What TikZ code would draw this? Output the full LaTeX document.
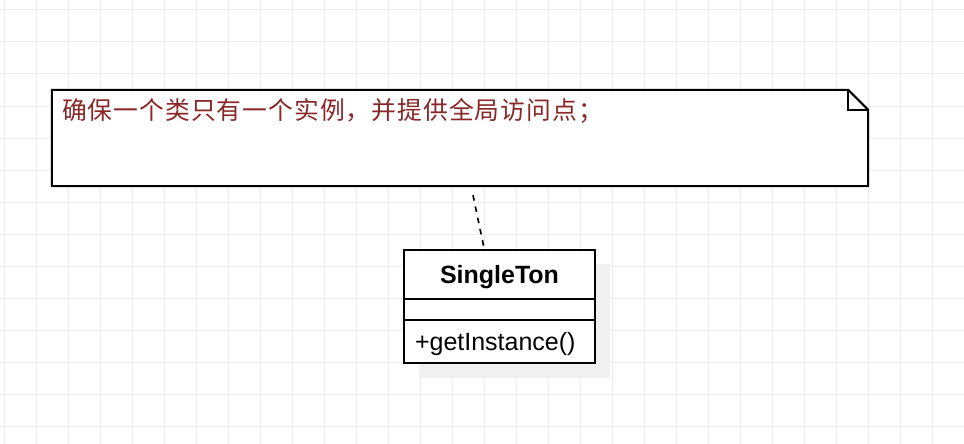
\documentclass[tikz,border=0pt]{standalone}
\usepackage{fontspec}
\setmainfont{Liberation Sans}
\newfontfamily\cjk[LetterSpace=4]{Noto Sans CJK SC}
\definecolor{gridc}{RGB}{236,236,236}
\definecolor{notetext}{RGB}{136,40,40}
\definecolor{shadowc}{RGB}{240,240,240}
\tikzset{
  gridline/.style={draw=gridc, line width=1pt},
  notebox/.style={rectangle, minimum width=816pt, minimum height=96pt, inner sep=0pt},
  noteline/.style={draw=black, line width=2pt, line join=miter},
  notetxt/.style={inner sep=0pt, anchor=west, text=notetext, font=\cjk\fontsize{24.8}{29}\selectfont},
  umlpart/.style={draw=black, line width=2pt, fill=white, rectangle, minimum width=191pt, inner sep=0pt, text height=18pt, text depth=0pt, font=\fontsize{25}{30}\selectfont},
  shadowbox/.style={fill=shadowc, draw=none, rectangle, minimum width=191pt, minimum height=114pt, inner sep=0pt},
  linkline/.style={draw=black, line width=1.7pt, dash pattern=on 5.5pt off 6pt}
}
\begin{document}
\begin{tikzpicture}[x=1pt,y=-1pt]
\useasboundingbox (0,0) rectangle (964,444);
\fill[white] (0,0) rectangle (964,444);
\foreach \i in {0,...,30} \draw[gridline] ({4+32*\i},0) -- ({4+32*\i},444);
\foreach \j in {0,...,13} \draw[gridline] (0,{10+32*\j}) -- (964,{10+32*\j});
% note
\node[notebox] (note) at (460,138) {};
\fill[white] (note.south west) -- (note.north west) -- ([xshift=-20pt]note.north east) -- ([yshift=-20pt]note.north east) -- (note.south east) -- cycle;
\draw[noteline] (note.south west) -- (note.north west) -- ([xshift=-20pt]note.north east) -- ([yshift=-20pt]note.north east) -- (note.south east) -- cycle;
\draw[noteline] ([xshift=-20pt]note.north east) |- ([yshift=-20pt]note.north east);
\node[notetxt] (notetext) at (62,111) {确保一个类只有一个实例，并提供全局访问点；};
% class
\node[shadowbox] (shadow) at (514.5,321) {};
\node[umlpart, minimum height=49pt, font=\bfseries\fontsize{25}{30}\selectfont] (name) at (499.5,274.5) {SingleTon};
\node[umlpart, minimum height=21pt] (attrs) at (499.5,309.5) {};
\node[umlpart, minimum height=43pt, text width=169pt, inner xsep=11pt, align=left] (ops) at (499.5,341.5) {+getInstance()};
% link
\draw[linkline] ([shift={(13,9)}]note.south) -- ([xshift=-15.5pt,yshift=1pt]name.north);
\end{tikzpicture}
\end{document}
